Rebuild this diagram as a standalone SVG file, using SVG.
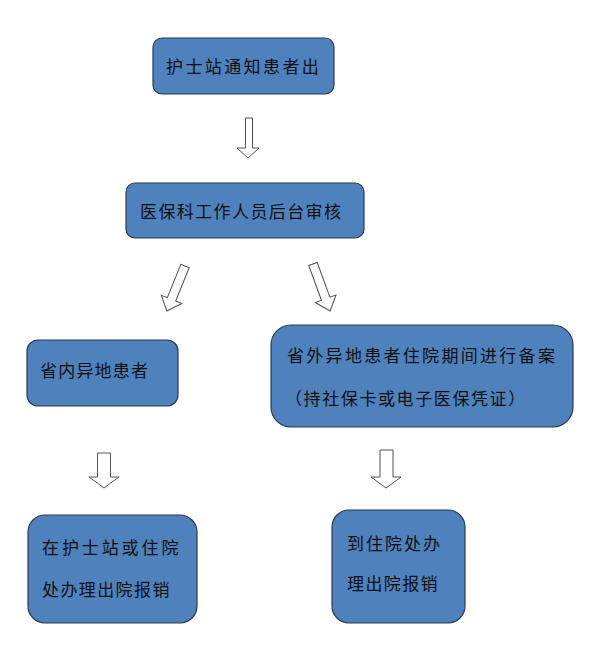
<svg xmlns="http://www.w3.org/2000/svg" width="591" height="646" viewBox="0 0 591 646">
<style>
.box{fill:#4F81BD;stroke:#2b3a4d;stroke-width:1.2}
.arr{fill:#fff;stroke:#505050;stroke-width:1}
text{font-family:"Noto Sans CJK SC","Noto Sans",sans-serif;font-size:17px;fill:#111}
</style>
<rect width="591" height="646" fill="#fff"/>
<g id="connectors">
<path class="arr" d="M245.5,118 H252.5 V148 H259 L248,158 L237,148 H245.5 Z"/>
<path class="arr" transform="translate(185,266) rotate(22)" d="M-4.5,0 H4.5 V36 H11 L0,48.5 L-11,36 H-4.5 Z"/>
<path class="arr" transform="translate(313,264) rotate(-20)" d="M-4.5,0 H4.5 V37 H11 L0,50 L-11,37 H-4.5 Z"/>
<path class="arr" d="M97.5,453 H110.5 V477 H119 L104,488 L89,477 H97.5 Z"/>
<path class="arr" d="M380,450 H393 V477 H401 L386,488 L371,477 H380 Z"/>
</g>
<g id="n1">
<rect class="box" x="153" y="38" width="181" height="56" rx="9"/>
<text x="166" y="73" style="letter-spacing:2.4px">护士站通知患者出</text>
</g>
<g id="n2">
<rect class="box" x="126" y="183" width="238" height="55" rx="9"/>
<text x="140" y="218" style="letter-spacing:1.4px">医保科工作人员后台审核</text>
</g>
<g id="n3">
<rect class="box" x="27" y="340" width="151" height="66" rx="11"/>
<text x="40" y="377" style="letter-spacing:1.2px">省内异地患者</text>
</g>
<g id="n4">
<rect class="box" x="271" y="325" width="302" height="102" rx="20"/>
<text x="287" y="362" style="letter-spacing:2.3px">省外异地患者住院期间进行备案</text>
<text x="285" y="405" style="letter-spacing:1.6px">（持社保卡或电子医保凭证）</text>
</g>
<g id="n5">
<rect class="box" x="28" y="515" width="169" height="108" rx="17"/>
<text x="42" y="554" style="letter-spacing:2.9px">在护士站或住院</text>
<text x="42" y="596" style="letter-spacing:1.4px">处办理出院报销</text>
</g>
<g id="n6">
<rect class="box" x="332" y="510" width="133" height="113" rx="17"/>
<text x="347" y="550" style="letter-spacing:2px">到住院处办</text>
<text x="347" y="590" style="letter-spacing:1.4px">理出院报销</text>
</g>
</svg>
